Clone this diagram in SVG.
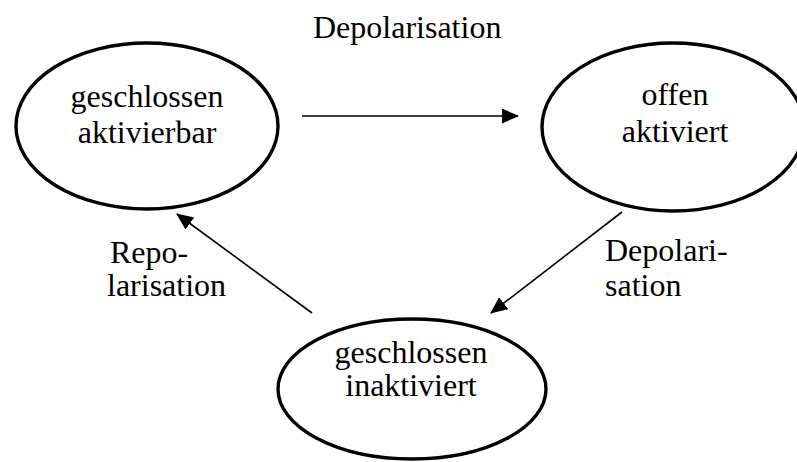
<svg xmlns="http://www.w3.org/2000/svg" width="797" height="462" viewBox="0 0 797 462">
<style>
.node ellipse{fill:#fff;stroke:#000;stroke-width:3.4}
text{font-family:"Liberation Serif","Times New Roman",serif;font-size:32px;fill:#000}
.c{text-anchor:middle}
.edge{stroke:#000;stroke-width:1.6;fill:none;marker-end:url(#ah)}
</style>
<defs>
<marker id="ah" markerUnits="userSpaceOnUse" markerWidth="18" markerHeight="16" refX="16" refY="7.5" orient="auto">
<path d="M0,0 L17,7.5 L0,15 Z" fill="#000"/>
</marker>
</defs>
<rect width="797" height="462" fill="#fff"/>
<g id="n1" class="node">
<ellipse cx="147" cy="126" rx="131" ry="83"/>
<text class="c" x="147" y="107">geschlossen</text>
<text class="c" x="147" y="143">aktivierbar</text>
</g>
<g id="n2" class="node">
<ellipse cx="673" cy="127" rx="131" ry="84"/>
<text class="c" x="675" y="105">offen</text>
<text class="c" x="675" y="142">aktiviert</text>
</g>
<g id="n3" class="node">
<ellipse cx="412" cy="389" rx="134" ry="70"/>
<text class="c" x="411" y="363">geschlossen</text>
<text class="c" x="411" y="396">inaktiviert</text>
</g>
<g id="edges">
<line class="edge" x1="302" y1="116" x2="518" y2="116"/>
<line class="edge" x1="622" y1="212" x2="491" y2="313"/>
<line class="edge" x1="312" y1="313" x2="177" y2="214"/>
</g>
<g id="labels">
<text x="313" y="38">Depolarisation</text>
<text x="110" y="263">Repo-</text>
<text x="107" y="296">larisation</text>
<text x="605" y="261">Depolari-</text>
<text x="605" y="296">sation</text>
</g>
</svg>
